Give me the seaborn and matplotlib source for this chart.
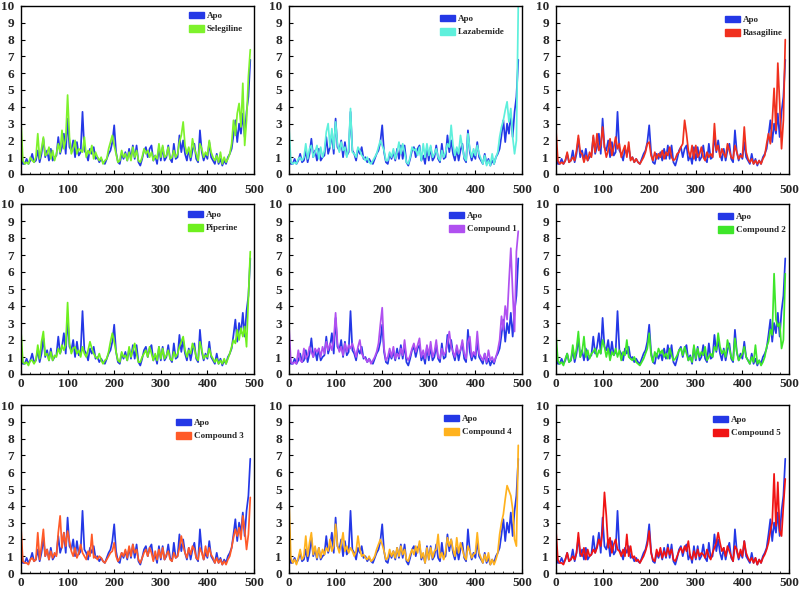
import numpy as np
import pandas as pd
import matplotlib
matplotlib.use("Agg")
import matplotlib.pyplot as plt
from matplotlib.patches import Patch
from matplotlib.ticker import MultipleLocator
import seaborn as sns

residues = list(range(0, 493, 4))

apo = [1.6,0.6,0.6,0.9,0.6,0.8,1.2,0.7,0.8,1.4,0.7,1.2,2.1,1.0,1.4,0.8,1.5,0.8,1.0,1.1,
       2.2,1.2,1.6,2.4,1.2,3.3,1.6,1.4,2.0,1.0,1.9,1.1,1.3,3.7,1.4,1.2,0.8,1.5,1.2,1.6,
       0.9,1.0,0.7,0.9,0.7,0.6,0.9,1.2,1.4,1.9,2.9,1.3,0.7,0.6,1.2,0.9,1.3,0.8,1.5,0.9,
       1.7,0.9,1.7,0.7,0.5,0.9,1.4,1.6,1.0,1.5,1.7,0.8,1.1,0.6,1.6,0.8,1.6,0.8,1.0,1.7,
       0.9,0.7,1.8,0.9,1.0,2.3,1.3,2.0,1.2,0.8,1.5,0.8,1.4,1.8,0.9,0.7,2.6,1.3,0.8,1.2,
       0.9,1.9,1.0,0.8,0.6,1.2,0.6,0.9,0.5,0.8,0.6,1.0,1.2,1.5,2.3,3.2,1.9,3.0,2.4,3.6,
       2.2,3.7,4.6,6.8]

selegiline = [3.1,0.8,0.6,0.7,0.6,1.0,0.8,0.7,1.0,2.4,0.9,1.5,2.2,1.1,1.2,1.6,0.9,1.4,0.8,1.2,
       1.8,1.3,2.6,1.5,2.1,4.7,2.2,1.2,1.5,2.0,1.2,1.5,1.4,1.3,2.2,1.0,1.4,1.2,1.7,0.9,
       1.3,1.0,0.8,1.0,0.6,0.8,0.9,1.5,1.9,2.3,1.7,1.2,0.7,0.8,1.4,1.0,1.2,0.8,1.3,0.8,
       1.6,1.0,1.4,0.8,0.7,1.0,1.5,1.2,1.4,1.0,1.3,0.8,1.1,0.9,1.8,1.0,1.7,1.0,1.1,1.6,
       0.9,1.0,1.4,1.0,1.2,1.9,2.3,3.1,1.7,1.2,1.6,1.0,2.1,1.5,1.2,0.8,1.8,1.5,1.0,1.3,
       1.1,2.0,1.3,1.0,0.8,1.1,0.7,1.3,0.6,1.0,0.7,0.9,1.2,1.8,3.2,2.3,3.6,4.2,2.8,5.4,
       1.7,3.2,5.8,7.4]

lazabemide = [2.8,0.7,0.6,0.7,0.6,0.9,1.0,0.8,1.0,1.8,0.9,1.5,1.7,1.0,1.3,1.7,0.9,1.6,1.0,1.4,
       2.5,3.0,1.6,2.7,1.5,3.1,1.8,1.3,1.9,1.4,1.6,1.0,1.5,3.9,1.3,1.2,1.0,1.6,1.4,1.1,
       1.0,0.8,1.0,0.7,0.6,0.8,1.0,1.2,1.6,2.0,1.7,1.4,0.8,0.8,1.3,1.0,1.5,0.9,1.3,1.9,
       1.2,1.8,1.3,0.7,0.6,1.0,1.6,1.4,1.5,1.1,1.6,0.8,1.8,1.0,1.8,1.1,1.7,1.0,1.2,1.5,
       1.0,0.8,1.4,1.0,1.3,1.8,1.6,2.9,1.7,1.1,1.6,1.2,2.3,1.6,1.0,0.8,2.4,1.5,1.0,1.5,
       1.1,1.7,1.2,0.9,0.6,1.1,0.5,0.8,0.5,1.2,0.6,1.0,1.3,2.2,2.8,3.2,3.8,4.3,3.1,3.9,
       2.2,1.2,2.0,10.0]

rasagiline = [2.6,0.8,0.6,0.7,0.6,0.8,1.3,0.7,0.8,1.0,0.8,1.4,2.3,1.3,1.2,0.7,1.1,0.8,1.3,1.0,
       2.3,1.3,2.4,1.4,1.7,2.8,1.6,1.0,1.4,2.1,1.1,1.6,2.2,1.5,1.8,1.0,1.4,1.7,1.0,1.9,
       0.8,1.0,0.7,0.9,0.7,0.6,0.8,1.0,1.3,1.8,1.9,1.1,0.8,1.3,0.9,1.2,1.0,1.4,0.9,1.3,
       1.1,1.6,1.0,0.8,0.9,1.2,1.3,1.6,1.8,3.2,2.4,1.4,1.0,1.7,0.9,1.7,1.0,1.2,1.6,1.0,
       0.8,1.3,1.0,1.2,1.0,3.0,1.4,1.7,1.0,1.5,1.2,1.0,1.8,1.4,1.0,0.9,1.7,1.3,0.9,1.1,
       1.0,2.8,1.3,0.9,0.7,0.9,0.6,0.8,0.6,0.8,0.6,0.9,1.1,1.8,2.4,1.8,3.1,5.1,2.6,6.6,
       4.2,1.5,3.2,8.0]

piperine = [2.5,0.7,0.6,0.7,0.5,0.8,0.8,0.6,0.8,1.7,0.9,1.9,2.5,1.1,1.2,0.8,1.3,0.8,1.1,1.0,
       1.5,1.2,1.7,1.4,1.7,4.2,1.8,1.2,1.5,1.6,1.2,1.4,1.0,1.6,1.2,1.0,1.4,1.9,1.5,1.2,
       1.0,0.9,1.2,0.8,0.6,0.8,0.9,1.3,1.9,2.4,1.9,1.3,0.8,0.7,1.3,1.0,1.1,0.8,1.6,1.0,
       1.4,1.8,1.2,0.7,0.7,1.0,1.2,1.4,1.0,1.6,1.2,0.8,1.2,0.8,1.6,0.9,1.5,0.9,1.1,1.4,
       0.9,0.8,1.3,1.0,1.2,1.6,1.9,2.2,1.4,1.0,1.4,1.2,1.8,1.5,1.0,0.8,1.9,1.4,0.9,1.1,
       1.0,1.5,1.1,0.9,0.7,0.9,0.6,0.8,0.6,0.9,0.6,0.9,1.2,1.6,2.0,1.8,2.6,2.0,2.7,2.2,
       2.8,1.6,4.5,7.2]

compound1 = [2.8,0.7,0.6,0.7,0.6,1.4,0.8,0.7,1.5,0.9,1.1,1.6,1.3,1.0,1.5,1.3,1.5,1.0,1.6,1.2,
       1.9,1.4,1.8,1.4,2.0,3.6,1.8,1.3,1.6,1.1,1.8,1.3,1.7,1.5,1.8,1.4,1.0,1.6,2.0,1.2,
       1.0,0.9,0.7,0.9,0.6,0.8,1.0,1.3,1.8,2.9,3.9,1.5,0.8,1.0,1.5,1.0,1.6,0.9,1.2,1.0,
       1.5,1.1,2.0,1.0,0.8,1.1,1.5,1.8,1.3,1.7,2.1,1.0,1.4,0.9,1.7,1.1,1.9,1.0,1.3,2.0,
       1.0,0.9,1.5,1.1,1.3,1.8,2.5,1.6,1.3,1.0,1.7,1.2,1.4,2.0,1.2,0.9,1.9,2.2,1.0,1.3,
       1.1,2.5,1.2,1.0,0.8,1.2,0.7,1.4,0.8,1.0,0.7,1.0,1.4,2.0,3.4,2.6,4.0,3.2,5.4,7.4,
       4.8,2.5,7.2,8.4]

compound2 = [2.3,0.8,0.6,0.7,0.5,0.9,1.2,0.7,0.8,1.7,0.9,1.5,2.5,1.0,1.3,2.2,1.0,1.4,0.9,1.2,
       1.3,1.5,1.0,1.4,1.2,2.0,1.6,1.0,1.5,0.8,1.3,1.1,1.5,1.0,1.4,0.8,1.3,1.1,2.0,1.0,
       0.9,0.8,1.0,0.7,0.6,0.5,0.7,0.9,1.2,1.5,2.4,1.1,0.7,1.3,1.0,1.5,1.2,1.4,1.0,1.2,
       0.9,1.5,1.1,0.8,0.9,1.1,1.4,1.5,1.1,1.6,1.2,0.8,1.0,0.7,1.7,0.9,1.5,1.0,1.3,1.1,
       1.6,0.8,1.0,1.2,1.0,1.6,1.4,2.4,1.6,1.2,1.4,1.0,2.0,1.5,1.0,0.8,2.1,1.3,0.8,1.0,
       1.2,1.6,1.0,0.8,0.6,1.0,0.7,1.7,0.6,0.8,0.5,0.7,1.0,1.6,1.9,2.6,2.3,5.9,3.2,2.8,
       3.0,1.5,2.0,5.9]

compound3 = [2.7,0.7,0.6,0.6,0.5,0.8,0.9,0.7,0.8,2.4,0.8,1.6,2.6,1.0,1.4,0.8,1.3,0.9,1.2,1.0,
       2.4,3.4,1.5,2.4,1.6,2.5,1.9,1.3,1.0,1.5,0.9,1.2,1.7,1.2,1.0,0.8,1.3,1.0,2.3,0.9,
       1.0,0.8,1.0,0.9,0.7,0.6,0.8,1.0,1.2,1.3,1.8,1.0,0.7,0.9,1.2,1.0,1.4,0.9,1.6,1.0,
       1.7,1.2,1.4,0.8,0.6,0.9,1.2,1.4,1.0,1.5,1.2,0.7,1.3,0.8,1.4,0.9,1.5,0.8,1.1,1.3,
       0.8,0.7,1.2,0.9,1.0,1.5,2.2,1.6,1.2,0.9,1.5,1.1,1.6,1.4,0.9,0.8,1.5,1.2,0.8,1.6,
       1.0,1.5,1.1,0.9,0.6,0.9,0.6,0.8,0.5,0.7,0.5,0.8,1.0,1.5,2.1,2.6,2.2,2.7,2.0,3.4,
       2.6,1.4,2.3,4.5]

compound4 = [4.3,0.9,0.6,0.8,0.5,0.9,1.4,0.8,1.0,2.2,1.0,1.8,2.4,1.1,1.6,0.9,1.5,0.9,1.4,1.1,
       1.5,1.3,2.0,1.3,1.6,2.9,1.6,1.2,1.7,2.4,1.3,1.6,1.2,1.5,1.3,1.0,1.3,2.2,1.4,1.0,
       1.1,0.9,0.8,1.0,0.7,0.8,1.0,1.4,1.7,2.0,1.7,1.3,0.8,0.9,1.4,1.0,1.3,0.9,1.5,1.0,
       1.6,1.1,1.4,0.8,0.7,1.1,1.4,1.1,1.6,1.2,1.9,0.9,1.2,0.6,1.5,0.8,1.5,0.9,1.3,1.4,
       2.3,0.9,1.2,0.8,1.3,2.1,1.6,2.0,1.4,1.0,2.1,1.2,1.8,1.4,1.0,0.8,1.6,1.3,0.9,1.1,
       1.2,2.4,1.2,0.9,0.6,1.1,0.7,1.2,0.5,0.8,0.5,0.8,1.2,2.3,3.0,3.5,4.4,5.2,4.9,4.6,
       3.8,2.0,1.6,7.6]

compound5 = [2.5,0.8,0.6,0.6,0.5,0.8,1.2,0.7,0.8,1.0,0.8,1.2,2.4,1.2,1.0,1.5,0.8,1.4,1.0,1.1,
       1.4,1.2,1.5,2.0,1.6,2.6,4.8,3.4,1.5,2.1,1.2,1.7,2.0,1.4,1.3,1.0,1.4,1.0,2.3,1.0,
       1.6,0.9,1.0,0.7,0.8,0.6,0.8,1.0,1.3,1.7,2.5,1.2,0.8,0.7,1.4,1.0,1.5,0.9,1.3,1.0,
       1.5,1.1,1.4,0.8,0.7,1.0,1.3,1.5,1.2,1.6,1.3,1.9,1.0,0.8,1.3,0.9,1.4,1.0,1.2,1.1,
       0.9,1.4,1.0,0.8,1.2,1.5,1.8,2.4,1.8,1.3,1.5,1.0,1.6,1.3,1.0,0.7,1.6,1.4,0.9,1.4,
       1.0,1.9,1.2,0.9,0.7,0.9,0.6,0.9,0.5,0.8,0.6,0.9,1.1,1.4,1.8,2.5,3.0,5.9,2.8,5.4,
       2.5,2.2,4.0,5.6]

ligand_names = ["Selegiline", "Lazabemide", "Rasagiline", "Piperine", "Compound 1",
                "Compound 2", "Compound 3", "Compound 4", "Compound 5"]
ligand_values = [selegiline, lazabemide, rasagiline, piperine, compound1,
                 compound2, compound3, compound4, compound5]
ligand_colors = ["#7ef22c", "#5ef0dc", "#f0301e", "#6ef01e", "#b050f0",
                 "#3ee62a", "#ff5a28", "#ffb21e", "#f01414"]
apo_color = "#2438e6"

x_ticks = [0, 100, 200, 300, 400, 500]
y_ticks = list(range(0, 11))

sns.set_theme(style="ticks")
plt.rcParams["font.family"] = ["Liberation Serif", "DejaVu Serif"]
plt.rcParams["font.weight"] = "bold"

fig = plt.figure(figsize=(8.03, 5.91), dpi=100)
W, H = 803.0, 591.0
col_left = [21, 289, 556]
row_top = [6, 204, 405]
row_h = [168, 170, 168]
aw = 233
row_pad = [7.5, 3.0, 3.0]

# legend placement per panel: (handle left offset px from axes left, first row centre px below axes top)
leg_pos = [(168, 10), (151, 13), (169, 14), (167, 11), (160, 12), (162, 13),
           (155, 18), (155, 14), (157, 15)]

for k, (name, vals, col) in enumerate(zip(ligand_names, ligand_values, ligand_colors)):
    r, c = divmod(k, 3)
    ah = row_h[r]
    ax = fig.add_axes([col_left[c] / W, 1 - (row_top[r] + ah) / H, aw / W, ah / H])
    df = pd.DataFrame({
        "Residue": residues * 2,
        "RMSF": apo + vals,
        "System": ["Apo"] * len(residues) + [name] * len(residues),
    })
    sns.lineplot(data=df, x="Residue", y="RMSF", hue="System",
                 palette={"Apo": apo_color, name: col}, linewidth=1.25,
                 ax=ax, legend=False, estimator=None, sort=False)
    ax.set_xlim(0, 500)
    ax.set_ylim(0, 10)
    ax.set_xticks(x_ticks)
    ax.set_yticks(y_ticks)
    ax.xaxis.set_minor_locator(MultipleLocator(20))
    ax.tick_params(axis="both", which="major", direction="in", length=3, width=0.8,
                   labelsize=9.5, color="black")
    ax.tick_params(axis="x", which="major", pad=row_pad[r])
    ax.tick_params(axis="y", which="major", pad=5)
    ax.tick_params(axis="x", which="minor", direction="in", length=1.5, width=0.6)
    for lab in ax.get_xticklabels() + ax.get_yticklabels():
        lab.set_fontweight("bold")
    ax.set_xlabel("")
    ax.set_ylabel("")
    for s in ax.spines.values():
        s.set_visible(True)
        s.set_color("black")
        s.set_linewidth(1.0)
    handles = [Patch(facecolor=apo_color, edgecolor=apo_color, label="Apo"),
               Patch(facecolor=col, edgecolor=col, label=name)]
    hx, hy = leg_pos[k]
    ax.legend(handles=handles, loc="upper left",
              bbox_to_anchor=(hx / aw, 1 - (hy - 4.5) / ah),
              frameon=False, borderpad=0, borderaxespad=0,
              handlelength=1.7, handleheight=0.8,
              handletextpad=0.3, labelspacing=0.5,
              prop={"weight": "bold", "size": 6.5})

fig.savefig("out.png", dpi=100)
